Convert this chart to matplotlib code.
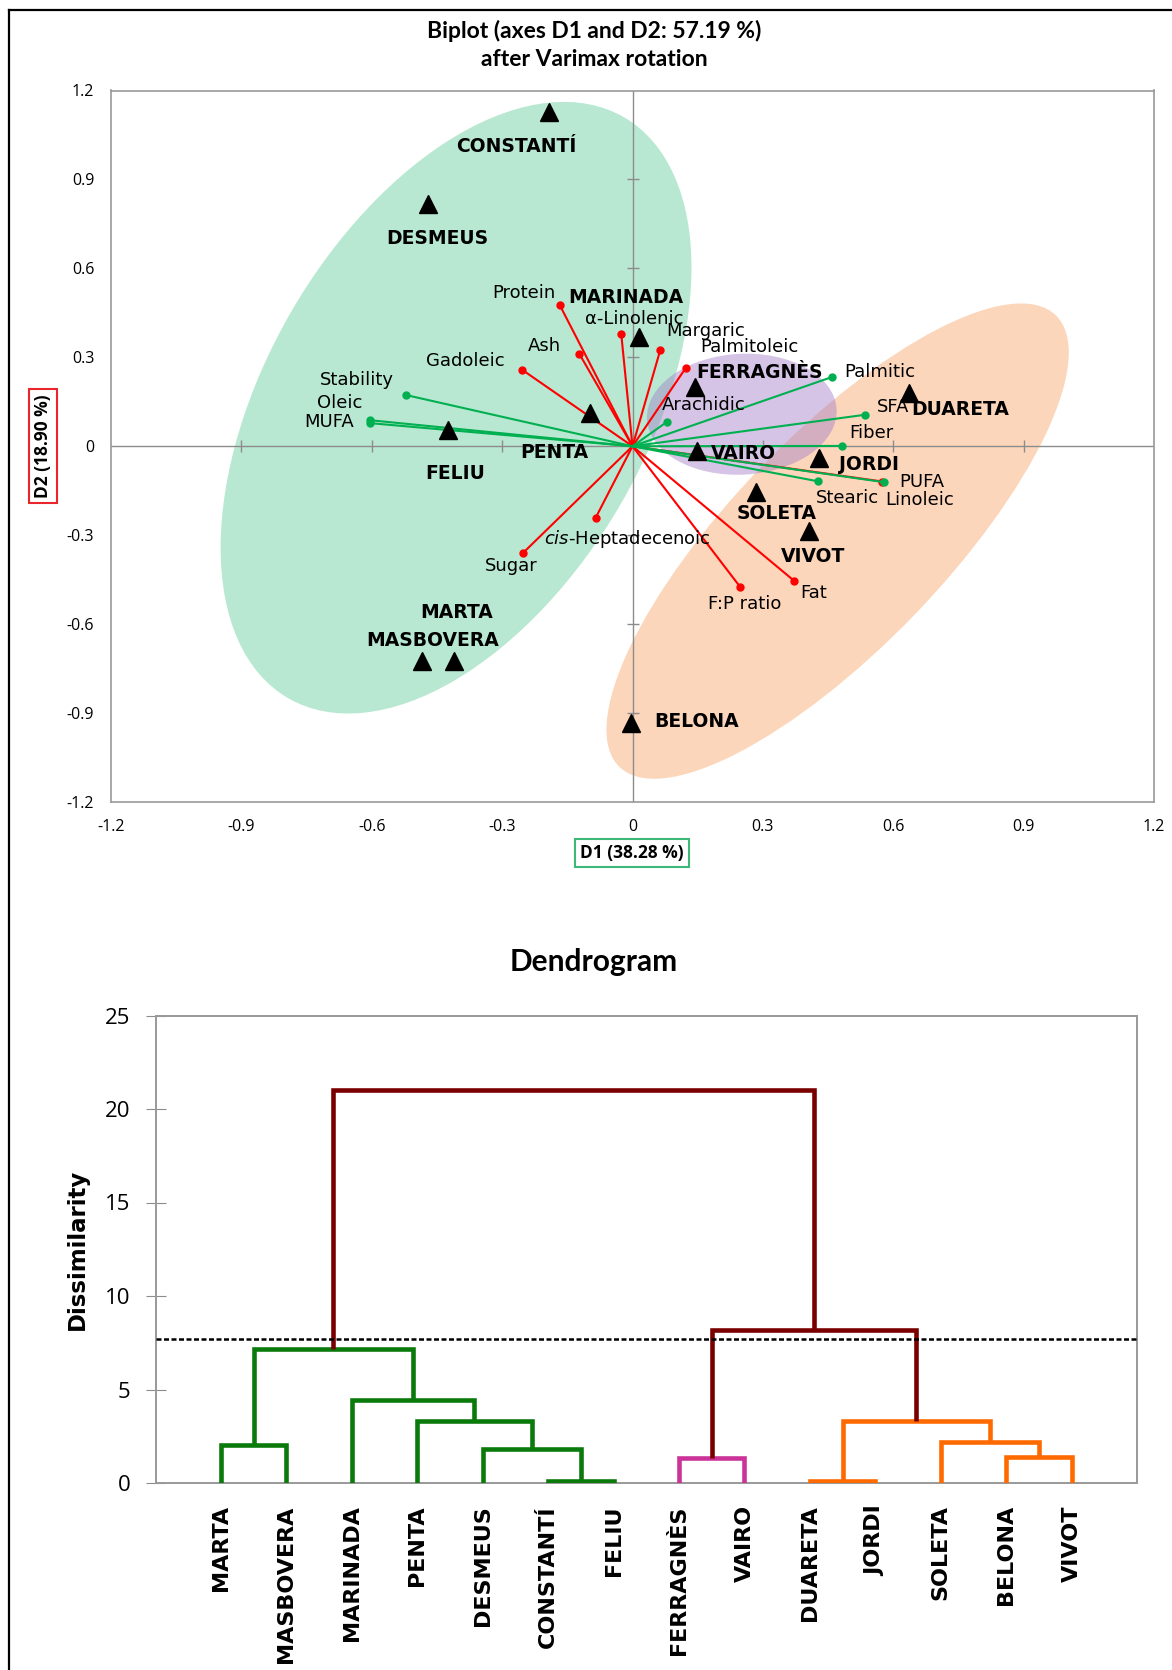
import matplotlib
matplotlib.use("Agg")
import matplotlib.pyplot as plt
from matplotlib.patches import Ellipse
from matplotlib.transforms import Affine2D
from matplotlib.lines import Line2D

# ---- biplot data ----
obs_names = ["CONSTANTÍ", "DESMEUS", "MARINADA", "FERRAGNÈS", "DUARETA", "PENTA", "FELIU",
             "VAIRO", "JORDI", "SOLETA", "VIVOT", "MARTA", "MASBOVERA", "BELONA"]
obs_d1 = [-0.193, -0.470, 0.015, 0.143, 0.637, -0.098, -0.424,
          0.149, 0.429, 0.284, 0.406, -0.411, -0.484, -0.004]
obs_d2 = [1.128, 0.817, 0.369, 0.201, 0.179, 0.112, 0.055,
          -0.015, -0.038, -0.153, -0.285, -0.726, -0.726, -0.934]

red_names = ["Protein", "α-Linolenic", "Ash", "Margaric", "Palmitoleic", "Gadoleic",
             r"$\it{cis}$-Heptadecenoic", "Sugar", "F:P ratio", "Fat", "Linoleic"]
red_d1 = [-0.167, -0.026, -0.122, 0.064, 0.123, -0.254, -0.085, -0.252, 0.248, 0.372, 0.575]
red_d2 = [0.475, 0.380, 0.311, 0.325, 0.265, 0.258, -0.242, -0.360, -0.475, -0.454, -0.119]

green_names = ["Stability", "Oleic", "MUFA", "Arachidic", "Palmitic", "SFA", "Fiber", "Stearic", "PUFA"]
green_d1 = [-0.522, -0.605, -0.604, 0.080, 0.458, 0.534, 0.481, 0.426, 0.578]
green_d2 = [0.173, 0.088, 0.078, 0.083, 0.233, 0.106, 0.001, -0.118, -0.121]

biplot_ticks = [-1.2, -0.9, -0.6, -0.3, 0, 0.3, 0.6, 0.9, 1.2]
tick_text = ["-1.2", "-0.9", "-0.6", "-0.3", "0", "0.3", "0.6", "0.9", "1.2"]

# ---- dendrogram data ----
leaves = ["MARTA", "MASBOVERA", "MARINADA", "PENTA", "DESMEUS", "CONSTANTÍ", "FELIU",
          "FERRAGNÈS", "VAIRO", "DUARETA", "JORDI", "SOLETA", "BELONA", "VIVOT"]
merge_left = [0, 5, 4, 3, 2, 14, 7, 9, 12, 11, 21, 20, 19]
merge_right = [1, 6, 15, 16, 17, 18, 8, 10, 13, 22, 23, 24, 25]
merge_height = [2.05, 0.1, 1.8, 3.3, 4.45, 7.15, 1.35, 0.1, 1.4, 2.2, 3.3, 8.2, 21.0]
merge_group = ["g", "g", "g", "g", "g", "g", "m", "o", "o", "o", "o", "r", "r"]
cut_level = 7.7

# ---- layout / style ----
W, H = 1172, 1670
TICKF = "Open Sans"
TITLEF = ["Lato", "DejaVu Sans"]
LABF = "DejaVu Sans"
GRAY = "#8c8c8c"
RED = "#ff0000"
GREEN = "#00b050"
group_colors = {"g": "#0a7a0a", "m": "#cc3399", "o": "#ff6a00", "r": "#7a0000"}

red_offsets = [(-4, 12, "right"), (-36, 15, "left"), (-18, 8, "right"), (6, 19, "left"),
               (14, 21, "left"), (-17, 9, "right"), (-52, -21, "left"), (-38, -13, "left"),
               (4, -17, "center"), (6, -12, "left"), (3, -18, "left")]
green_offsets = [(-12, 15, "right"), (-7, 17, "right"), (-16, 1, "right"), (-5, 17, "left"),
                 (13, 5, "left"), (12, 8, "left"), (8, 13, "left"), (-2, -17, "left"),
                 (16, 0, "left")]
obs_offsets = [(-32, -35, "center"), (9, -34, "center"), (-71, 39, "left"), (2, 14, "left"),
               (2, -16, "left"), (-70, -39, "left"), (-23, -44, "left"), (14, -3, "left"),
               (20, -7, "left"), (-19, -22, "left"), (-28, -26, "left"), (3, 49, "center"),
               (10, 21, "center"), (23, 2, "left")]

fig = plt.figure(figsize=(W / 100, H / 100), dpi=100)

# outer frame
fig.add_artist(Line2D([9 / W, 9 / W], [0, 1 - 10 / H], color="black", lw=1.6))
fig.add_artist(Line2D([9 / W, 1], [1 - 10 / H, 1 - 10 / H], color="black", lw=1.6))

# ================= biplot =================
ax = fig.add_axes([111 / W, 1 - 802 / H, (1154 - 111) / W, (802 - 90.5) / H])
ax.set_xlim(-1.2, 1.2)
ax.set_ylim(-1.2, 1.2)
k = ((802 - 90.5) / 2.4) / ((1154 - 111) / 2.4)


def blob(cx, cy, w, h, angle, **kw):
    tr = Affine2D().scale(1, 1 / k).translate(cx, cy) + ax.transData
    ax.add_patch(Ellipse((0, 0), w, h, angle=angle, transform=tr, lw=0, **kw))


blob(-0.406, 0.130, 1.544, 0.878, 60, facecolor="#b8e8d2", zorder=0)
blob(0.472, -0.320, 1.445, 0.490, 46, facecolor="#fcd6bb", zorder=0)
blob(0.2515, 0.108, 0.437, 0.278, 3, facecolor="#a27ec7", alpha=0.45, zorder=1)

ax.axhline(0, color=GRAY, lw=1, zorder=1)
ax.axvline(0, color=GRAY, lw=1, zorder=1)
ax.plot(biplot_ticks[1:-1], [0] * 7, ls="none", marker="|", ms=8, color=GRAY, zorder=1)
ax.plot([0] * 7, biplot_ticks[1:-1], ls="none", marker="_", ms=8, color=GRAY, zorder=1)

for x, y in zip(red_d1, red_d2):
    ax.plot([0, x], [0, y], color=RED, lw=1.5, zorder=2)
    ax.plot(x, y, "o", color=RED, ms=5, zorder=2)
for x, y in zip(green_d1, green_d2):
    ax.plot([0, x], [0, y], color=GREEN, lw=1.5, zorder=3)
    ax.plot(x, y, "o", color=GREEN, ms=5, zorder=3)

ax.plot(obs_d1, obs_d2, "^", color="black", ms=13, ls="none", zorder=4)

for name, x, y, (dx, dy, ha) in zip(red_names, red_d1, red_d2, red_offsets):
    ax.annotate(name, (x, y), xytext=(dx, dy), textcoords="offset pixels",
                ha=ha, va="center", fontsize=13, family=LABF, zorder=5)
for name, x, y, (dx, dy, ha) in zip(green_names, green_d1, green_d2, green_offsets):
    ax.annotate(name, (x, y), xytext=(dx, dy), textcoords="offset pixels",
                ha=ha, va="center", fontsize=13, family=LABF, zorder=5)
for name, x, y, (dx, dy, ha) in zip(obs_names, obs_d1, obs_d2, obs_offsets):
    ax.annotate(name, (x, y), xytext=(dx, dy), textcoords="offset pixels",
                ha=ha, va="center", fontsize=13.5, family=LABF, weight="bold", zorder=5)

ax.set_xticks(biplot_ticks, tick_text)
ax.set_yticks(biplot_ticks, tick_text)
ax.tick_params(length=0, labelsize=11.5, pad=12)
for lab in ax.get_xticklabels() + ax.get_yticklabels():
    lab.set_family(TICKF)
for sp in ax.spines.values():
    sp.set_color("#999999")
    sp.set_linewidth(1.2)

fig.text(594 / W, 1 - 31 / H, "Biplot (axes D1 and D2: 57.19 %)", ha="center", va="center",
         fontsize=16.5, weight="bold", family=TITLEF)
fig.text(594 / W, 1 - 59 / H, "after Varimax rotation", ha="center", va="center",
         fontsize=16.5, weight="bold", family=TITLEF)
fig.text(632 / W, 1 - 853 / H, "D1 (38.28 %)", ha="center", va="center", fontsize=12.5,
         weight="bold", family=TICKF,
         bbox=dict(boxstyle="square,pad=0.3", fc="white", ec="#3cb878", lw=1.5))
fig.text(43 / W, 1 - 446 / H, "D2 (18.90 %)", ha="center", va="center", fontsize=12.5,
         weight="bold", family=TICKF, rotation=90,
         bbox=dict(boxstyle="square,pad=0.3", fc="white", ec="#e8262b", lw=1.5))

# ================= dendrogram =================
dx = fig.add_axes([155.5 / W, 1 - 1483 / H, (1137 - 155.5) / W, (1483 - 1015.5) / H])
n = len(leaves)
xpos = {i: i + 1 for i in range(n)}
hpos = {i: 0.0 for i in range(n)}
for j, (a, b, h, g) in enumerate(zip(merge_left, merge_right, merge_height, merge_group)):
    xa, xb = xpos[a], xpos[b]
    dx.plot([xa, xa, xb, xb], [hpos[a], h, h, hpos[b]], color=group_colors[g], lw=3.3,
            solid_joinstyle="miter", solid_capstyle="butt", zorder=3)
    xpos[n + j] = (xa + xb) / 2
    hpos[n + j] = h

dx.axhline(cut_level, color="black", ls=(0, (2, 1)), lw=1.8, zorder=4)
dx.set_xlim(0, n + 1)
dx.set_ylim(0, 25)
dx.set_yticks([0, 5, 10, 15, 20, 25])
dx.set_xticks(range(1, n + 1), leaves, rotation=90, fontsize=16, weight="bold", family=LABF)
dx.tick_params(axis="x", length=0, pad=16)
dx.tick_params(axis="y", direction="inout", length=14, color=GRAY, labelsize=16, pad=11)
for lab in dx.get_yticklabels():
    lab.set_family(TICKF)
for sp in dx.spines.values():
    sp.set_color("#999999")
    sp.set_linewidth(1.4)

fig.text(593.5 / W, 1 - 962 / H, "Dendrogram", ha="center", va="center", fontsize=21.5,
         weight="bold", family=TITLEF)
fig.text(77 / W, 1 - 1249 / H, "Dissimilarity", ha="center", va="center", fontsize=16.5,
         weight="bold", family=LABF, rotation=90)

fig.savefig("out.png", dpi=100)
